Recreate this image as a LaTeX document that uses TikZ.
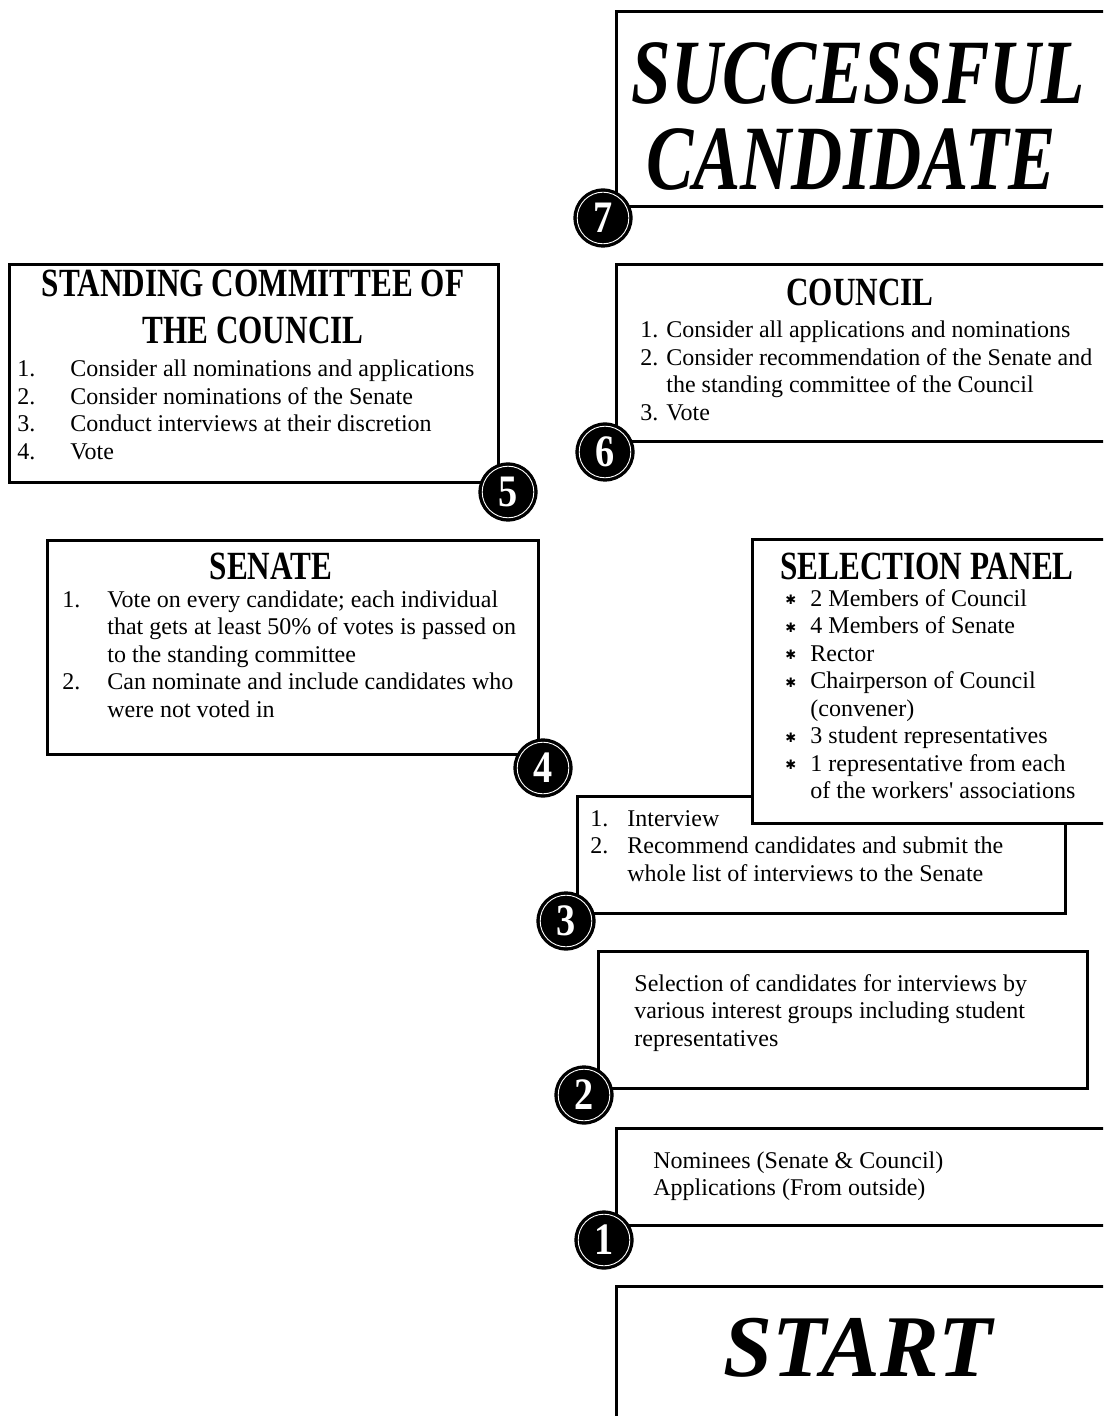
\documentclass[tikz,border=0pt]{standalone}
\usepackage{fontspec}
\setmainfont{Liberation Serif}
\newfontfamily\headfont{Liberation Serif}[FakeStretch=0.78]
\newfontfamily\titlefont{Liberation Serif}[FakeStretch=0.77]
\newfontfamily\startfont{Liberation Serif}
\newfontfamily\numfont{Liberation Serif}[FakeStretch=0.85]
\newfontfamily\aposfont{Liberation Serif}[Ligatures=TeXOff]
\newfontfamily\symfont{DejaVu Sans}
\newcommand\bodyfont{\fontsize{12}{13.75}\selectfont}
\newcommand\headsize{\headfont\bfseries\fontsize{20}{23.5}\selectfont}
\newcommand\titlesize{\titlefont\bfseries\itshape\fontsize{46}{41}\selectfont}
\newcommand\startsize{\startfont\bfseries\itshape\fontsize{44}{44}\selectfont}
\newcommand\blt{{\symfont\fontsize{6.5}{6.5}\selectfont\raisebox{0.6pt}{✱}}}
\newcommand\apos{{\aposfont\char"27}}
\begin{document}
\begin{tikzpicture}[x=0.5pt,y=-0.5pt,
  box/.style={draw=black,line width=1.4pt,fill=white,inner sep=0pt,anchor=north west},
  stepnum/.style={circle,fill=black,draw=black,line width=0.6pt,minimum size=29pt,inner sep=0pt,
    text=white,font=\numfont\bfseries\fontsize{22.5}{22.5}\selectfont,
    path picture={\draw[white,line width=0.45pt] (path picture bounding box.center) circle (12.9pt);}},
  heading/.style={anchor=base,inner sep=0pt,font=\headsize},
  bigtitle/.style={anchor=base,inner sep=0pt,font=\titlesize},
  body/.style={anchor=base west,inner sep=0pt,font=\bodyfont}]
\useasboundingbox (0,0) rectangle (1103,1416);
\begin{scope}
\clip (0,0) rectangle (1103,1416);
% boxes
\node (b7) [box,minimum width=250pt,minimum height=97.5pt] at (615,10) {};
\node (b6) [box,minimum width=250pt,minimum height=88.5pt] at (615,263) {};
\node (b5) [box,minimum width=244.5pt,minimum height=109pt] at (8,263) {};
\node (b4) [box,minimum width=245.5pt,minimum height=107pt] at (46,539) {};
\node (b3) [box,minimum width=244pt,minimum height=58.5pt] at (576,795) {};
\node (bp) [box,minimum width=182pt,minimum height=142pt] at (751,538) {};
\node (b2) [box,minimum width=244.5pt,minimum height=68.5pt] at (597,950) {};
\node (b1) [box,minimum width=250pt,minimum height=48.5pt] at (615,1127) {};
\node (b0) [box,minimum width=250pt,minimum height=80pt] at (615,1285) {};
% titles
\node (t7) [bigtitle] at (858,104) {\begin{tabular}[t]{@{}c@{}}
SUCCESSFUL\\ CANDIDATE\hspace*{7pt}\end{tabular}};
\node (t0) [anchor=base,inner sep=0pt,font=\startsize] at (858,1376) {START};
% headings
\node (h6) [heading] at (860,306) {COUNCIL};
\node (h5a) [heading] at (253,297) {STANDING COMMITTEE OF};
\node (h5b) [heading] at (253,344) {THE COUNCIL};
\node (h4) [heading] at (271,579) {SENATE};
\node (hp) [heading] at (927,579) {SELECTION PANEL};
% lists
\node (l6) [body] at (640,338) {\begin{tabular}[t]{@{}p{13pt}@{}l@{}}
1. & Consider all applications and nominations\\
2. & Consider recommendation of the Senate and\\
   & the standing committee of the Council\\
3. & Vote\end{tabular}};
\node (l5) [body] at (17,377) {\begin{tabular}[t]{@{}p{26.5pt}@{}l@{}}
1. & Consider all nominations and applications\\
2. & Consider nominations of the Senate\\
3. & Conduct interviews at their discretion\\
4. & Vote\end{tabular}};
\node (l4) [body] at (62,607) {\begin{tabular}[t]{@{}p{22.5pt}@{}l@{}}
1. & Vote on every candidate; each individual\\
   & that gets at least 50\% of votes is passed on\\
   & to the standing committee\\
2. & Can nominate and include candidates who\\
   & were not voted in\end{tabular}};
\node (lp) [body] at (785,606) {\begin{tabular}[t]{@{}p{12.5pt}@{}l@{}}
\blt & 2 Members of Council\\
\blt & 4 Members of Senate\\
\blt & Rector\\
\blt & Chairperson of Council\\
     & (convener)\\
\blt & 3 student representatives\\
\blt & 1 representative from each\\
     & of the workers\apos{} associations\end{tabular}};
\node (l3) [body] at (590,826) {\begin{tabular}[t]{@{}p{18.5pt}@{}l@{}}
1. & Interview\\
2. & Recommend candidates and submit the\\
   & whole list of interviews to the Senate\end{tabular}};
\node (l2) [body] at (634,991) {\begin{tabular}[t]{@{}l@{}}
Selection of candidates for interviews by\\
various interest groups including student\\
representatives\end{tabular}};
\node (l1) [body] at (653,1168) {\begin{tabular}[t]{@{}l@{}}
Nominees (Senate \& Council)\\
Applications (From outside)\end{tabular}};
% step circles
\node (c7) [stepnum] at (603,218) {7};
\node (c6) [stepnum] at (605,452) {6};
\node (c5) [stepnum] at (508,492) {5};
\node (c4) [stepnum] at (543,768) {4};
\node (c3) [stepnum] at (566,921) {3};
\node (c2) [stepnum] at (584,1095) {2};
\node (c1) [stepnum] at (604,1240) {1};
\end{scope}
\end{tikzpicture}
\end{document}
